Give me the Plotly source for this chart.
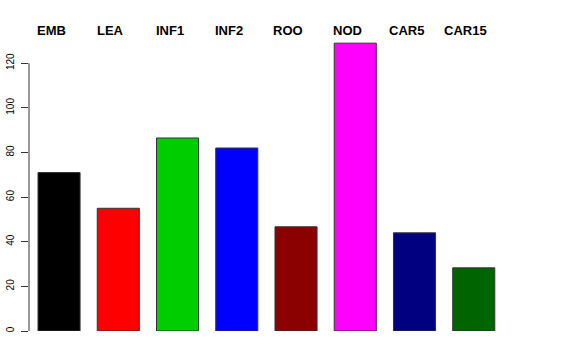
import plotly.graph_objects as go

categories = ["EMB", "LEA", "INF1", "INF2", "ROO", "NOD", "CAR5", "CAR15"]
values = [71, 55, 86.5, 82, 46.7, 129, 44, 28.3]
colors = ["#000000", "#FF0000", "#00CD00", "#0000FF", "#8B0000", "#FF00FF", "#000080", "#006400"]
y_ticks = [0, 20, 40, 60, 80, 100, 120]

fig = go.Figure()
fig.add_trace(go.Bar(
    x=list(range(len(categories))),
    y=values,
    marker=dict(color=colors, line=dict(color="#333333", width=1)),
    width=0.71,
    hoverinfo="skip",
))

for i, c in enumerate(categories):
    fig.add_annotation(x=i, y=1, xref="x", yref="paper", yshift=2, xshift=-8,
                       text="<b>%s</b>" % c, showarrow=False, yanchor="middle",
                       font=dict(size=13, color="black", family="Liberation Sans, Arial, sans-serif"))

fig.add_shape(type="line", xref="paper", yref="y", x0=0, x1=0, y0=0, y1=120,
              line=dict(color="#333333", width=1))

fig.update_layout(
    width=576, height=360,
    margin=dict(l=29, r=43, t=32, b=29, autoexpand=False),
    paper_bgcolor="white", plot_bgcolor="white",
    showlegend=False,
    xaxis=dict(range=[-0.507, 8.0], showgrid=False, zeroline=False, showticklabels=False,
               ticks="", showline=False, automargin=False),
    yaxis=dict(range=[0, 134], showgrid=False, zeroline=False, showline=False,
               tickvals=y_ticks, ticktext=[str(v) for v in y_ticks],
               ticks="outside", ticklen=7, tickcolor="#333333", tickwidth=1,
               tickangle=-90, ticklabelstandoff=3, automargin=False,
               tickfont=dict(size=10, color="black", family="Liberation Sans, Arial, sans-serif")),
    font=dict(family="Liberation Sans, Arial, sans-serif"),
)

fig.write_html("out.html", config={"displayModeBar": False},
               post_script="document.body.style.margin='0';")
